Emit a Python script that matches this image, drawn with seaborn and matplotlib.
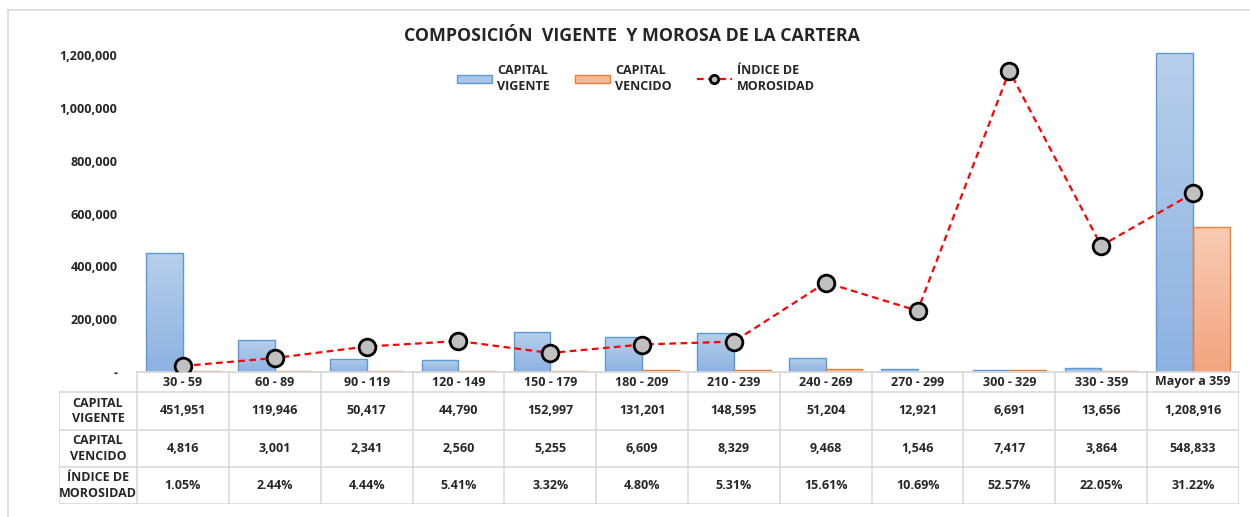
import numpy as np
import pandas as pd
import matplotlib
matplotlib.use('Agg')
import matplotlib.pyplot as plt
from matplotlib.colors import LinearSegmentedColormap
from matplotlib.patches import Patch
from matplotlib.lines import Line2D
import seaborn as sns

# data
rangos = ['30 - 59', '60 - 89', '90 - 119', '120 - 149', '150 - 179', '180 - 209',
          '210 - 239', '240 - 269', '270 - 299', '300 - 329', '330 - 359', 'Mayor a 359']
capital_vigente = [451951, 119946, 50417, 44790, 152997, 131201,
                   148595, 51204, 12921, 6691, 13656, 1208916]
capital_vencido = [4816, 3001, 2341, 2560, 5255, 6609,
                   8329, 9468, 1546, 7417, 3864, 548833]
indice_morosidad = [1.05, 2.44, 4.44, 5.41, 3.32, 4.80,
                    5.31, 15.61, 10.69, 52.57, 22.05, 31.22]
row_labels = ['CAPITAL\nVIGENTE', 'CAPITAL\nVENCIDO', 'ÍNDICE DE\nMOROSIDAD']
y_ticks = [0, 200000, 400000, 600000, 800000, 1000000, 1200000]

sns.set_theme(style='white')
plt.rcParams['font.family'] = ['Open Sans', 'DejaVu Sans']
FS = 9

df = pd.DataFrame({
    'rango': rangos * 2,
    'valor': capital_vigente + capital_vencido,
    'serie': ['CAPITAL\nVIGENTE'] * len(rangos) + ['CAPITAL\nVENCIDO'] * len(rangos),
})

W, H = 1250, 517
fig = plt.figure(figsize=(W / 100, H / 100), dpi=100)

# plot area in pixels: left 137, right 1239, top 45, bottom 372
def fx(px):
    return px / W

def fy(py):
    return 1 - py / H

ax = fig.add_axes([fx(137), fy(372), fx(1239 - 137), (372 - 45) / H])

face_cols = ['#a9c5e8', '#f5b898']
edge_cols = ['#5b9bd5', '#ed7d31']
sns.barplot(data=df, x='rango', y='valor', hue='serie', palette=face_cols,
            ax=ax, legend=False, width=0.8)

grads = [LinearSegmentedColormap.from_list('v', ['#8db2e2', '#b7cfea']),
         LinearSegmentedColormap.from_list('o', ['#f3a47f', '#f8cbb3'])]
grad = np.linspace(0, 1, 256).reshape(-1, 1)
for cont, ec, cm in zip(ax.containers, edge_cols, grads):
    for bar in cont:
        bar.set_edgecolor(ec)
        bar.set_linewidth(1.0)
        bar.set_facecolor('none')
        x0, w, h = bar.get_x(), bar.get_width(), bar.get_height()
        im = ax.imshow(grad, extent=[x0, x0 + w, 0, h], origin='lower', aspect='auto',
                       cmap=cm, zorder=bar.get_zorder() - 0.1)
        im.set_clip_path(bar)

ax.set_xlim(-0.5, len(rangos) - 0.5)
ax.set_ylim(0, 1237900)
ax.set_yticks(y_ticks)
ax.set_yticklabels(['-' if v == 0 else f'{v:,}' for v in y_ticks],
                   fontsize=FS, fontweight='bold')
ax.tick_params(axis='y', length=0, pad=14)
ax.set_xticks([])
ax.set_xlabel('')
ax.set_ylabel('')
for s in ['top', 'right', 'left']:
    ax.spines[s].set_visible(False)
ax.spines['bottom'].set_color('#d9d9d9')

# secondary axis for the index line
ax2 = ax.twinx()
sns.lineplot(x=list(range(len(rangos))), y=[v / 100 for v in indice_morosidad], ax=ax2,
             color='#ff0000', linestyle=(0, (3, 2)), linewidth=1.6,
             marker='o', markersize=12, markerfacecolor='#c0c0c0',
             markeredgecolor='black', markeredgewidth=2)
ax2.set_ylim(0, 0.571)
ax2.set_yticks([])
for s in ax2.spines.values():
    s.set_visible(False)
ax2.set_xlim(-0.5, len(rangos) - 0.5)

# data table below the plot
cat_w = (1239 - 137) / len(rangos)
lab_w = (137 - 59) / cat_w
tax = fig.add_axes([fx(59), fy(504), fx(1239 - 59), (504 - 372) / H])
tax.set_xlim(-0.5 - lab_w, len(rangos) - 0.5)
tax.set_ylim(132, 0)
tax.axis('off')
gc = '#d9d9d9'
row_edges = [0, 20, 58, 95, 132]
tax.plot([-0.5, len(rangos) - 0.5], [0, 0], color=gc, lw=1.2)
for yv in row_edges[1:]:
    tax.plot([-0.5 - lab_w, len(rangos) - 0.5], [yv, yv], color=gc, lw=1.2)
for i in range(len(rangos) + 1):
    tax.plot([i - 0.5, i - 0.5], [0, 132], color=gc, lw=1.2)
tax.plot([-0.5 - lab_w] * 2, [20, 132], color=gc, lw=1.2)

for i, r in enumerate(rangos):
    tax.text(i, 10, r, ha='center', va='center', fontsize=FS, fontweight='bold')
    tax.text(i, 39, f'{capital_vigente[i]:,}', ha='center', va='center', fontsize=FS, fontweight='bold')
    tax.text(i, 76.5, f'{capital_vencido[i]:,}', ha='center', va='center', fontsize=FS, fontweight='bold')
    tax.text(i, 113.5, f'{indice_morosidad[i]:.2f}%', ha='center', va='center', fontsize=FS, fontweight='bold')
for j, lab in enumerate(row_labels):
    yc = (row_edges[j + 1] + row_edges[j + 2]) / 2
    tax.text(-0.5 - lab_w / 2, yc, lab, ha='center', va='center', fontsize=FS,
             fontweight='bold', multialignment='center', linespacing=1.25)

# title
fig.text(fx(632), fy(36), 'COMPOSICIÓN  VIGENTE  Y MOROSA DE LA CARTERA',
         ha='center', va='center', fontsize=12.8, fontweight='bold')

# legend
handles = [Patch(facecolor='#a9c5e8', edgecolor=edge_cols[0]),
           Patch(facecolor='#f5b898', edgecolor=edge_cols[1]),
           Line2D([0], [0], color='#ff0000', linestyle=(0, (3, 2)), lw=1.6,
                  marker='o', markersize=6, markerfacecolor='#c0c0c0',
                  markeredgecolor='black', markeredgewidth=2)]
leg = fig.legend(handles, ['CAPITAL\nVIGENTE', 'CAPITAL\nVENCIDO', 'ÍNDICE DE\nMOROSIDAD'],
                 loc='center', bbox_to_anchor=(fx(636), fy(78)), ncol=3, frameon=False,
                 prop={'size': FS, 'weight': 'bold'}, handlelength=2.8, handleheight=0.6,
                 columnspacing=2.0, handletextpad=0.4)
for t in leg.get_texts():
    t.set_multialignment('left')
    t.set_linespacing(1.3)

# chart frame (top and left edges visible)
fig.add_artist(Line2D([fx(8), 1], [fy(10), fy(10)], color='#d9d9d9', lw=1.2))
fig.add_artist(Line2D([fx(8), fx(8)], [0, fy(10)], color='#d9d9d9', lw=1.2))

fig.savefig('out.png', dpi=100, facecolor='white')
